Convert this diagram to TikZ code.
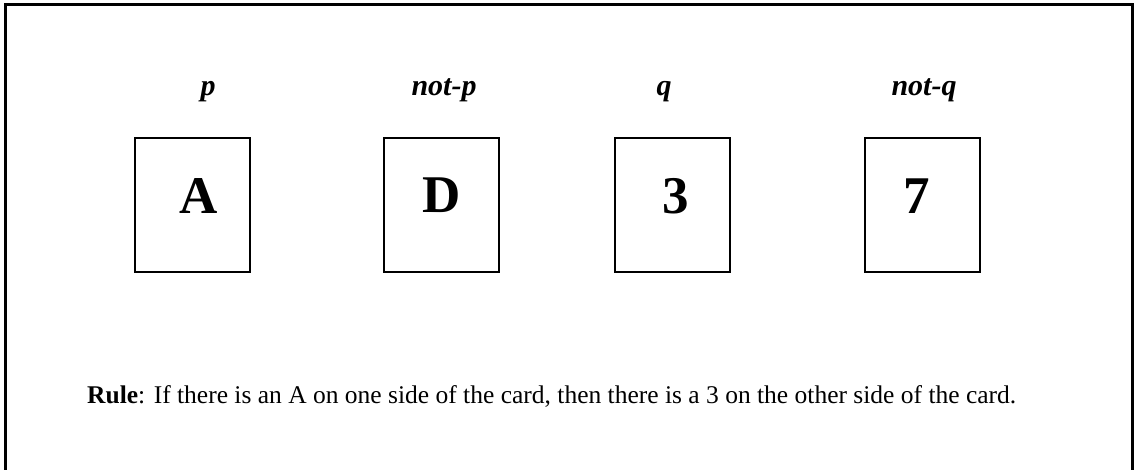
\documentclass[tikz,border=0pt]{standalone}
\usepackage{fontspec}
\setmainfont{Liberation Serif}
\begin{document}
\begin{tikzpicture}[x=1pt,y=-1pt,
  card/.style={draw=black,line width=2.4pt,minimum width=115pt,minimum height=134pt,inner sep=0pt},
  face/.style={anchor=base,inner sep=0pt,font=\fontsize{53}{53}\selectfont\bfseries},
  cond/.style={anchor=base,inner sep=0pt,font=\fontsize{30}{30}\selectfont\bfseries\itshape},
  ruletext/.style={anchor=base west,inner sep=0pt,font=\fontsize{25.5}{26}\selectfont}]
\useasboundingbox (0,0) rectangle (1135,469);
\coordinate (fbl) at (5,472);
\coordinate (ftl) at (5,4);
\coordinate (ftr) at (1132,4);
\coordinate (fbr) at (1132,472);
\draw[line width=3pt] (fbl) -- (ftl) -- (ftr) -- (fbr);
\node[card] (cA) at (192.5,205) {};
\node[card] (cD) at (441.5,205) {};
\node[card] (c3) at (672.5,205) {};
\node[card] (c7) at (922.5,205) {};
\node[face] (tA) at (199,213) {A};
\node[face] (tD) at (442,212) {D};
\node[face] (t3) at (676,213) {3};
\node[face] (t7) at (917,213) {7};
\node[cond] (lp) at (208,95) {p};
\node[cond] (lnp) at (444,95) {not-p};
\node[cond] (lq) at (664,95) {q};
\node[cond] (lnq) at (924,95) {not-q};
\node[ruletext] (rule) at (87,403) {\textbf{Rule}: If there is an A on one side of the card, then there is a 3 on the other side of the card.};
\end{tikzpicture}
\end{document}
